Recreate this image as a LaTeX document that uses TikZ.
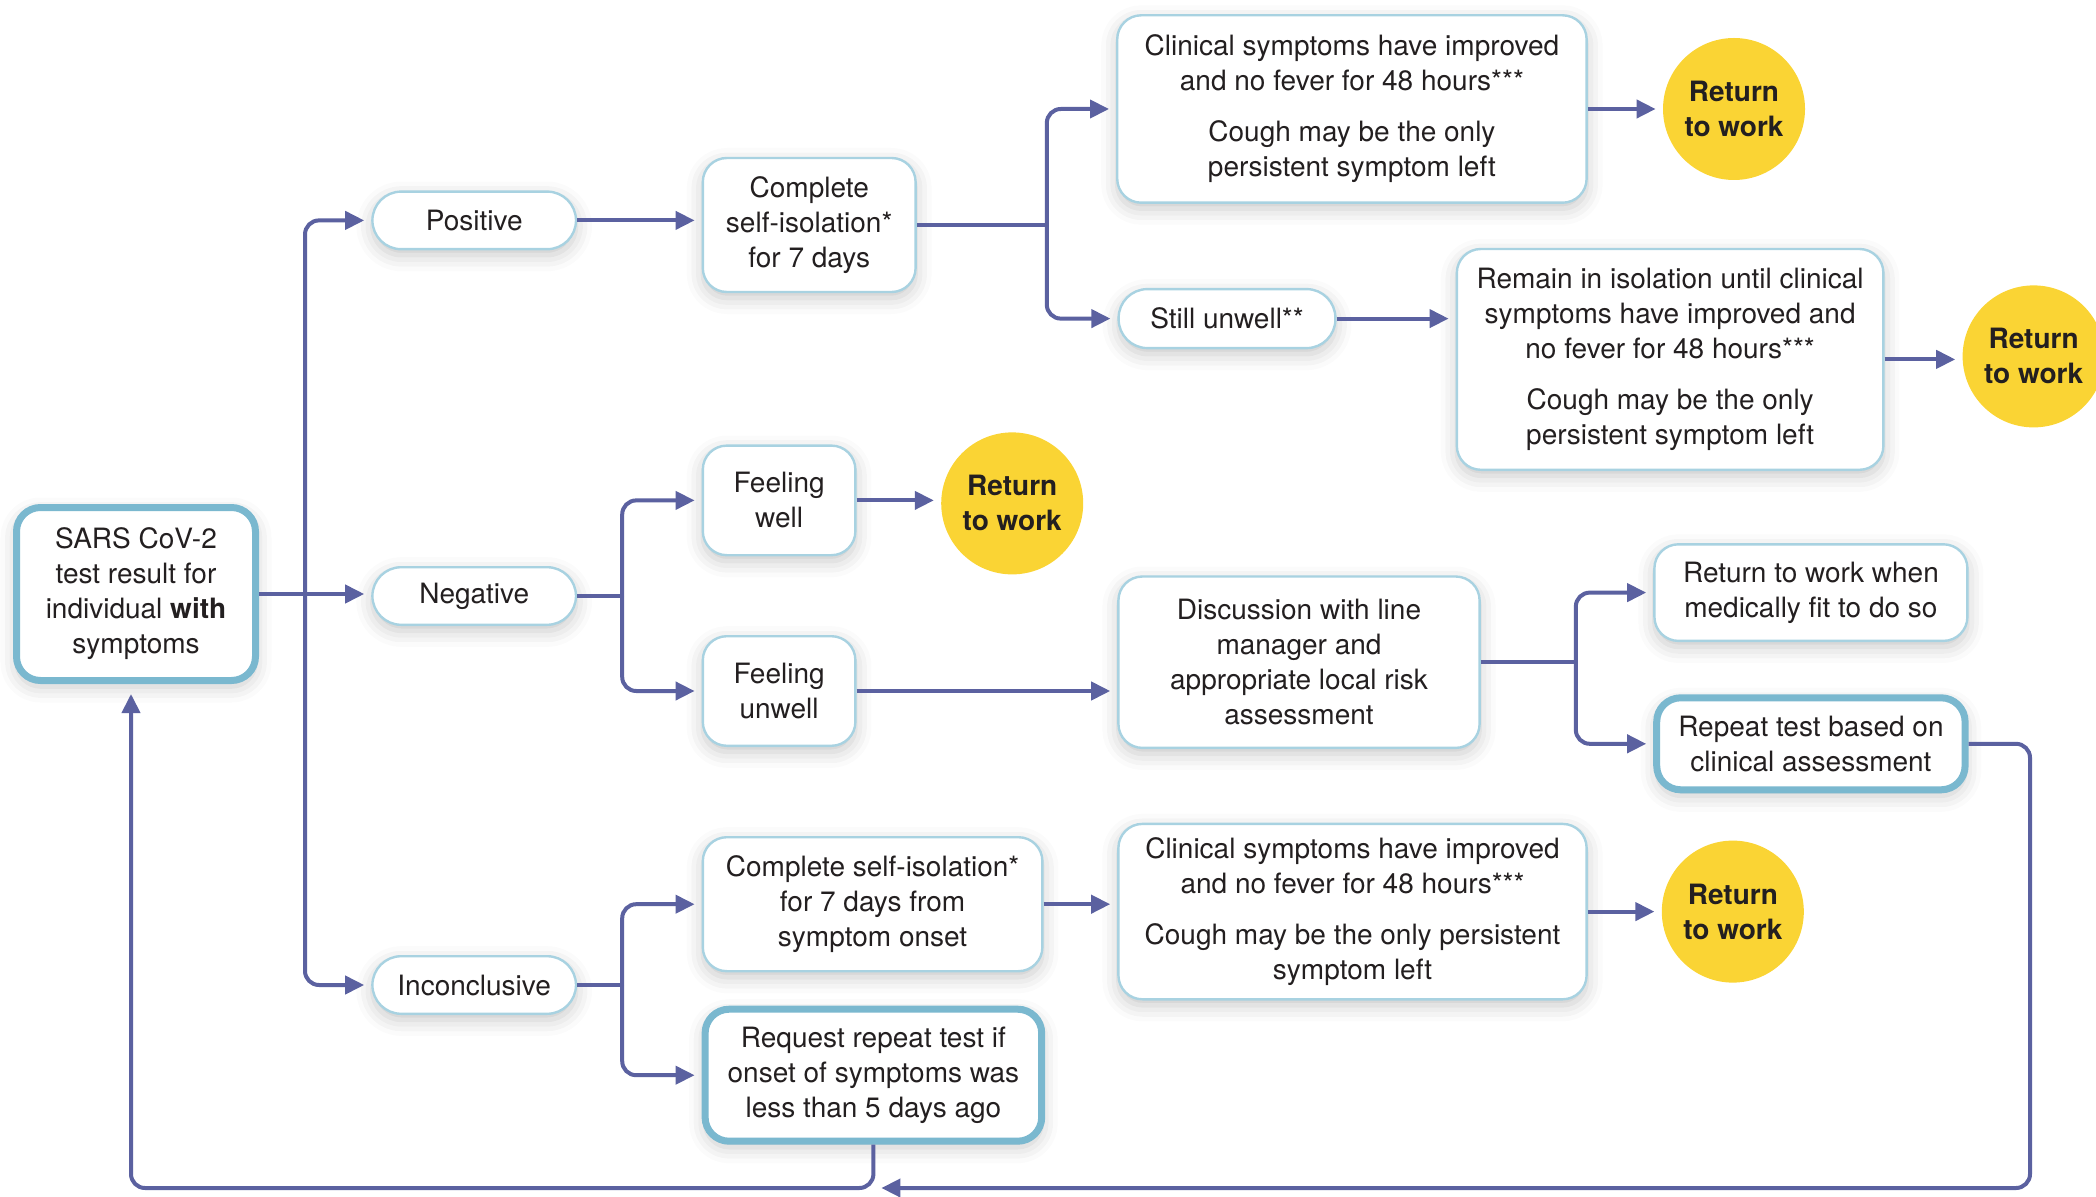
\documentclass[tikz,border=0pt]{standalone}
\usepackage{fontspec}
\setmainfont{TeX Gyre Heros}
\usepackage{tikz}
\usetikzlibrary{arrows.meta,positioning,calc,shadows.blur}

\definecolor{flowline}{RGB}{91,97,160}
\definecolor{rimblue}{RGB}{168,210,225}
\definecolor{rimdark}{RGB}{122,184,207}
\definecolor{sunny}{RGB}{250,212,52}
\definecolor{inkgrey}{RGB}{35,31,32}

\begin{document}
\begin{tikzpicture}[
      x=0.5pt, y=-0.5pt,
      every node/.style={font=\fontsize{14}{17.5}\selectfont, text=inkgrey},
      card/.style={draw=rimblue, line width=1.2pt, fill=white,
                   rounded corners=12pt, align=center, inner sep=2pt,
                   blur shadow={shadow xshift=0pt, shadow yshift=-3pt,
                                shadow blur radius=8pt, shadow opacity=22}},
      keycard/.style={card, draw=rimdark, line width=3.5pt},
      pill/.style={card, rounded corners=14.4pt, minimum height=28.8pt},
      rtw/.style={circle, fill=sunny, minimum size=71pt, inner sep=0pt,
                  align=center, font=\fontsize{14}{17.5}\selectfont\bfseries},
      link/.style={line width=2pt, color=flowline, rounded corners=7pt},
      arr/.style={link, -{Triangle[length=9.5pt, width=9pt]}, shorten >=3.5pt},
    ]
    \useasboundingbox (0,0) rectangle (2096,1197);

    % ── Test result ─────────────────────────────────────────
    \node[keycard, minimum width=119.5pt, minimum height=86.5pt] (sars) at (136,594)
      {SARS CoV-2\\test result for\\individual \textbf{with}\\symptoms};

    \node[pill, minimum width=101.8pt, right=56.1pt of sars, yshift=-1pt] (neg) {Negative};
    \node[pill, minimum width=101.8pt, above=157.8pt of neg] (pos) {Positive};
    \node[pill, minimum width=101.8pt, below=164.5pt of neg] (inc) {Inconclusive};

    % ── Positive ────────────────────────────────────────────
    \node[card, minimum width=106.4pt, minimum height=67pt,
          right=62.2pt of pos, yshift=-2.3pt] (iso)
      {Complete\\self-isolation*\\for 7 days};
    \node[card, minimum width=234.7pt, minimum height=93.7pt,
          right=99.6pt of iso, yshift=58pt] (clin1)
      {Clinical symptoms have improved\\and no fever for 48 hours***\\[8pt]%
       Cough may be the only\\persistent symptom left};
    \node[rtw, right=37.4pt of clin1] (ret1) {Return\\to work};
    \node[pill, minimum width=108.4pt, minimum height=29.5pt,
          right=100.3pt of iso, yshift=-46.8pt] (still) {Still unwell**};
    \node[card, minimum width=213.3pt, minimum height=110.4pt,
          right=59.5pt of still, yshift=-20.4pt] (remain)
      {Remain in isolation until clinical\\symptoms have improved and\\no fever for 48 hours***\\[8pt]%
       Cough may be the only\\persistent symptom left};
    \node[rtw, right=38.8pt of remain, yshift=1.5pt] (ret2) {Return\\to work};

    % ── Negative ────────────────────────────────────────────
    \node[card, minimum width=76.3pt, minimum height=54.8pt,
          right=62.2pt of neg, yshift=47.8pt] (well) {Feeling\\well};
    \node[rtw, right=42.1pt of well, yshift=-1.5pt] (ret3) {Return\\to work};
    \node[card, minimum width=76.3pt, minimum height=54.8pt,
          right=62.2pt of neg, yshift=-47.5pt] (unwell) {Feeling\\unwell};
    \node[card, minimum width=180.6pt, minimum height=85.7pt,
          right=130.3pt of unwell, yshift=14.4pt] (disc)
      {Discussion with line\\manager and\\appropriate local risk\\assessment};
    \node[card, minimum width=156.5pt, minimum height=48.3pt,
          right=86.2pt of disc, yshift=34.8pt] (rwhen)
      {Return to work when\\medically fit to do so};
    \node[keycard, minimum width=154.2pt, minimum height=46pt,
          right=86.2pt of disc, yshift=-40.8pt] (rtest)
      {Repeat test based on\\clinical assessment};

    % ── Inconclusive ────────────────────────────────────────
    \node[card, minimum width=169.8pt, minimum height=67pt,
          right=62.2pt of inc, yshift=40.4pt] (onset)
      {Complete self-isolation*\\for 7 days from\\symptom onset};
    \node[keycard, minimum width=168.3pt, minimum height=66pt,
          right=62.2pt of inc, yshift=-45.1pt] (req)
      {Request repeat test if\\onset of symptoms was\\less than 5 days ago};
    \node[card, minimum width=234.1pt, minimum height=87.7pt,
          right=36.8pt of onset, yshift=-3.7pt] (clin3)
      {Clinical symptoms have improved\\and no fever for 48 hours***\\[8pt]%
       Cough may be the only persistent\\symptom left};
    \node[rtw, right=36.8pt of clin3] (ret4) {Return\\to work};

    % ── Forks ───────────────────────────────────────────────
    \coordinate (fork0) at ([xshift=23pt]sars.east);
    \coordinate (fork1) at ([xshift=65pt]iso.east);
    \coordinate (fork2) at ([xshift=22.5pt]neg.east);
    \coordinate (fork3) at ([xshift=47.5pt]disc.east);
    \coordinate (fork4) at ([xshift=22.5pt]inc.east);
    \coordinate (floor) at (0,1188);

    % ── Arrows ──────────────────────────────────────────────
    \draw[arr] (sars.east) -- (sars.east -| neg.west);
    \draw[arr] (fork0) |- (pos.west);
    \draw[arr] (fork0) |- (inc.west);

    \draw[arr] (pos.east) -- (pos.east -| iso.west);
    \draw[link] (iso.east) -- (fork1);
    \draw[arr] (fork1) |- (clin1.west);
    \draw[arr] (fork1) |- (still.west);
    \draw[arr] (clin1.east) -- (ret1.west);
    \draw[arr] (still.east) -- (still.east -| remain.west);
    \draw[arr] (remain.east) -- (remain.east -| ret2.west);

    \draw[link] (neg.east) -- (fork2);
    \draw[arr] (fork2) |- (well.west);
    \draw[arr] (fork2) |- (unwell.west);
    \draw[arr] (well.east) -- (well.east -| ret3.west);
    \draw[arr] (unwell.east) -- (unwell.east -| disc.west);
    \draw[link] (disc.east) -- (fork3);
    \draw[arr] (fork3) |- (rwhen.west);
    \draw[arr] (fork3) |- (rtest.west);

    \draw[link] (inc.east) -- (fork4);
    \draw[arr] (fork4) |- (onset.west);
    \draw[arr] (fork4) |- (req.west);
    \draw[arr] (onset.east) -- (onset.east -| clin3.west);
    \draw[arr] (clin3.east) -- (ret4.west);

    % loop back to the test
    \draw[arr, shorten >=5pt] (req.south) |- ([xshift=-2.5pt]sars.south |- floor)
      -- ([xshift=-2.5pt]sars.south);
    \draw[arr, shorten >=0pt] (rtest.east) -- ++(30.7pt,0)
      |- ([xshift=4pt]req.south |- floor);
  \end{tikzpicture}
\end{document}
